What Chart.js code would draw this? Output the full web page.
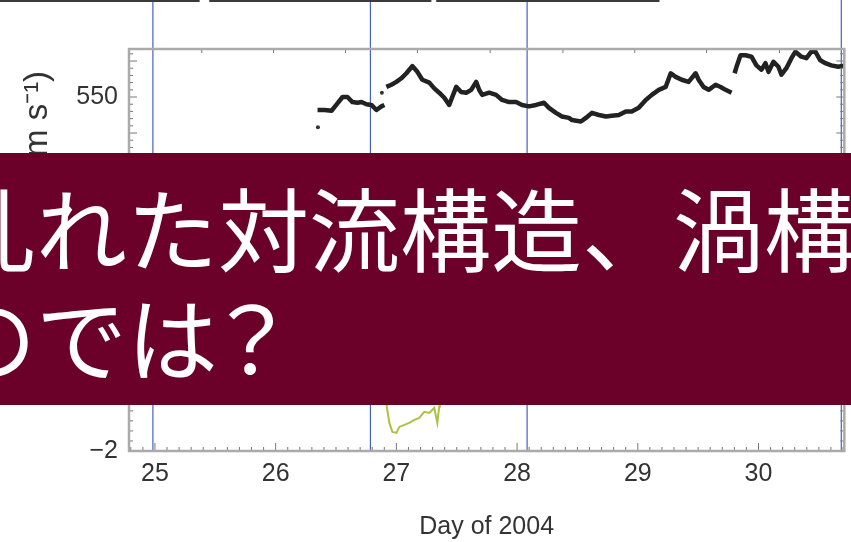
<!DOCTYPE html>
<html>
<head>
<meta charset="utf-8">
<script src="https://cdn.jsdelivr.net/npm/chart.js@4.4.1/dist/chart.umd.min.js"></script>
<style>
  html, body { margin: 0; padding: 0; background: #fff; }
  #wrap { position: relative; width: 851px; height: 542px; overflow: hidden; }
  #banner {
    position: absolute; left: 0; top: 153px; width: 851px; height: 252px;
    background: #6b0029; color: #fff; overflow: hidden;
    font-family: "Noto Sans CJK JP", sans-serif; font-size: 91px; line-height: 110px; white-space: nowrap;
  }
  #banner div { position: absolute; left: -55px; }
  #banner .p { font-feature-settings: "palt"; }
</style>
</head>
<body>
<div id="wrap">
  <canvas id="myChart" width="851" height="542"></canvas>
  <div id="banner">
    <div style="top:17px">乱れた対流構造、渦構造</div>
    <div style="top:126px">のでは<span class="p">？</span></div>
  </div>
</div>
<script>
// solar wind speed (km/s), null = data gap
const speedDays = [
  26.347, 26.405, 26.463, 26.502, 26.554, 26.595, 26.636, 26.678, 26.711, 26.752, 26.793, 26.835, 26.876, 26.901,
  26.909,
  26.917, 26.959, 27.0, 27.041, 27.083, 27.132, 27.174, 27.215, 27.273, 27.314, 27.355, 27.397, 27.438, 27.463,
  27.496, 27.537, 27.579, 27.620, 27.661, 27.686, 27.711, 27.769, 27.826, 27.876, 27.934, 27.992, 28.041, 28.099,
  28.157, 28.223, 28.264, 28.322, 28.372, 28.430, 28.455, 28.529, 28.570, 28.620, 28.678, 28.736, 28.785, 28.843,
  28.901, 28.950, 29.008, 29.066, 29.116, 29.174, 29.231, 29.273, 29.314, 29.364, 29.421, 29.479, 29.504, 29.545,
  29.587, 29.645, 29.686, 29.727, 29.777,
  29.790,
  29.802, 29.818, 29.851, 29.893, 29.942, 29.983, 30.025, 30.058, 30.083, 30.124, 30.165, 30.190, 30.231, 30.273,
  30.306, 30.355, 30.397, 30.438, 30.471, 30.512, 30.554, 30.603, 30.661, 30.727
];
const speedValues = [
  532, 532, 531, 539, 550, 550, 543, 542, 543, 540, 539, 532, 537, 539,
  null,
  564, 567, 571, 576, 583, 593, 585, 574, 570, 562, 556, 549, 539, 550,
  564, 557, 556, 560, 571, 560, 553, 556, 553, 546, 543, 543, 539, 537,
  539, 542, 535, 528, 523, 521, 518, 516, 521, 528, 525, 523, 524, 525,
  530, 530, 535, 546, 553, 560, 564, 583, 578, 574, 571, 583, 574, 564,
  560, 567, 564, 560, 556,
  null,
  583, 592, 608, 608, 606, 594, 588, 597, 585, 599, 592, 581, 590, 604,
  613, 606, 604, 613, 613, 601, 597, 594, 592, 594
];
const strayDays = [26.35, 26.88];
const strayValues = [508, 556];

// lower panel trace
const lowerDays = [26.915, 26.921, 26.942, 26.967, 27.0, 27.025, 27.066, 27.107, 27.149, 27.190, 27.231, 27.273, 27.314, 27.339, 27.355, 27.36];
const lowerValues = [-0.9, -1.12, -1.44, -1.62, -1.64, -1.52, -1.48, -1.44, -1.38, -1.34, -1.22, -1.24, -1.14, -1.44, -1.12, -0.85];

// axis labels and markers
const dayTickLabels = [25, 26, 27, 28, 29, 30];
const speedTickLabels = [550];
const lowerTickLabels = [-2];
const topTickDays = [25.388, 25.983, 26.579, 27.174, 27.777, 28.380, 28.975, 29.570, 30.174];
const eventDays = [24.983, 26.785, 28.083, 30.686];
const topBars = [[23.6, 25.37], [25.45, 27.29], [27.33, 29.18]];

const toXY = (xs, ys) => xs.map((d, i) => ({ x: d, y: ys[i] }));
const near = (a, b) => Math.abs(a - b) < 1e-6;
const stepTicks = (from, to, step) => {
  const out = [];
  for (let k = Math.round(from / step); k * step <= to + 1e-9; k++) out.push({ value: +(k * step).toFixed(4) });
  return out;
};

const frame = {
  id: 'frame',
  beforeDatasetsDraw(chart) {
    const { ctx, chartArea: a, scales: { x } } = chart;
    ctx.save();
    ctx.strokeStyle = '#4262c4';
    ctx.lineWidth = 1.2;
    eventDays.forEach(d => {
      const px = x.getPixelForValue(d);
      ctx.beginPath(); ctx.moveTo(px, 0); ctx.lineTo(px, a.bottom); ctx.stroke();
    });
    ctx.fillStyle = '#3a3a3a';
    topBars.forEach(([d0, d1]) => {
      const p0 = x.getPixelForValue(d0), p1 = x.getPixelForValue(d1);
      ctx.fillRect(p0, 0, p1 - p0, 2);
    });
    ctx.restore();
  },
  afterDatasetsDraw(chart) {
    const { ctx, chartArea: a, scales: { x, yT, yB } } = chart;
    ctx.save();
    ctx.strokeStyle = '#777';
    ctx.lineWidth = 1;
    const tick = (x0, y0, x1, y1) => { ctx.beginPath(); ctx.moveTo(x0, y0); ctx.lineTo(x1, y1); ctx.stroke(); };
    yT.ticks.forEach(t => {
      const py = yT.getPixelForValue(t.value);
      const len = near(t.value % 50, 0) ? 8 : 4;
      tick(a.left, py, a.left + len, py);
      tick(a.right, py, a.right - len, py);
    });
    yB.ticks.forEach(t => {
      const py = yB.getPixelForValue(t.value);
      const len = near(t.value, Math.round(t.value)) ? 8 : 4;
      tick(a.left, py, a.left + len, py);
      tick(a.right, py, a.right - len, py);
    });
    x.ticks.forEach(t => {
      const px = x.getPixelForValue(t.value);
      const len = near(t.value, Math.round(t.value)) ? 8 : 4;
      tick(px, a.bottom, px, a.bottom - len);
    });
    topTickDays.forEach(d => {
      const px = x.getPixelForValue(d);
      tick(px, a.top, px, a.top + 4);
    });
    ctx.strokeStyle = '#aaa';
    ctx.lineWidth = 2.5;
    ctx.strokeRect(a.left, a.top, a.right - a.left, a.bottom - a.top);
    ctx.restore();
  }
};

Chart.defaults.font.family = "'Liberation Sans', Arial, sans-serif";
Chart.defaults.color = '#333';

const ctx = document.getElementById('myChart');
new Chart(ctx, {
  type: 'line',
  data: {
    datasets: [
      {
        label: 'speed',
        data: toXY(speedDays, speedValues),
        yAxisID: 'yT',
        borderColor: '#222',
        borderWidth: 4.5,
        borderJoinStyle: 'round',
        pointRadius: 0,
        spanGaps: false
      },
      {
        label: 'stray',
        data: toXY(strayDays, strayValues),
        yAxisID: 'yT',
        showLine: false,
        pointRadius: 2,
        pointBackgroundColor: '#333',
        pointBorderWidth: 0
      },
      {
        label: 'lower',
        data: toXY(lowerDays, lowerValues),
        yAxisID: 'yB',
        borderColor: '#abc244',
        borderWidth: 2,
        pointRadius: 0
      }
    ]
  },
  options: {
    responsive: false,
    animation: false,
    layout: { padding: { top: 49, right: 5, left: 0, bottom: 0 } },
    plugins: { legend: { display: false }, tooltip: { enabled: false } },
    scales: {
      x: {
        type: 'linear',
        min: 24.785,
        max: 30.711,
        afterBuildTicks: s => { s.ticks = stepTicks(24.8, 30.7, 0.1); },
        afterFit: s => { s.height = 91; },
        grid: { display: false, drawTicks: false },
        border: { display: false },
        ticks: {
          autoSkip: false,
          maxRotation: 0,
          padding: 8,
          font: { size: 25 },
          callback: v => dayTickLabels.find(d => near(d, v)) ?? ''
        },
        title: { display: true, text: 'Day of 2004', font: { size: 25 }, padding: { top: 0, bottom: 0 } }
      },
      yB: {
        type: 'linear',
        position: 'left',
        stack: 'panels',
        stackWeight: 140,
        min: -2,
        max: 0.79,
        afterBuildTicks: s => { s.ticks = stepTicks(-2, 0.7, 0.2); },
        afterFit: s => { s.width = 129; },
        grid: { display: false, drawTicks: false },
        border: { display: false },
        ticks: {
          autoSkip: false,
          padding: 11,
          font: { size: 25 },
          callback: v => lowerTickLabels.some(t => near(t, v)) ? '\u2212' + Math.abs(v) : ''
        }
      },
      yT: {
        type: 'linear',
        position: 'left',
        stack: 'panels',
        stackWeight: 262,
        min: 252.8,
        max: 616.7,
        afterBuildTicks: s => { s.ticks = stepTicks(260, 610, 10); },
        afterFit: s => { s.width = 129; },
        grid: { display: false, drawTicks: false },
        border: { display: false },
        ticks: {
          autoSkip: false,
          padding: 11,
          font: { size: 25 },
          callback: v => speedTickLabels.some(t => near(t, v)) ? String(v) : ''
        },
        title: { display: true, text: 'Speed (km s\u207B\u00B9)', font: { size: 33 }, padding: { top: 18, bottom: 0 } }
      }
    }
  },
  plugins: [frame]
});
</script>
</body>
</html>
